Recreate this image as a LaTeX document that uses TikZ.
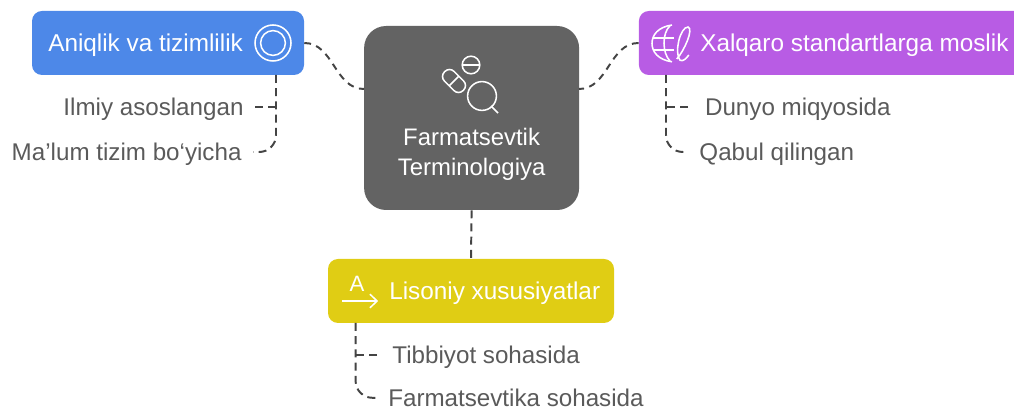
\documentclass[tikz,border=0pt]{standalone}
\usepackage{fontspec}
\setmainfont{Liberation Sans}
\definecolor{boxblue}{HTML}{4D88E8}
\definecolor{boxpurple}{HTML}{B85CE4}
\definecolor{boxyellow}{HTML}{E0CD14}
\definecolor{boxgrey}{HTML}{636363}
\definecolor{labelgrey}{HTML}{5A5A5A}
\definecolor{linkgrey}{HTML}{444444}
\begin{document}
\begin{tikzpicture}[
    box/.style={rectangle, rounded corners=0.25cm, minimum height=1.6cm},
    blue box/.style={box, fill=boxblue, minimum width=6.8cm},
    purple box/.style={box, fill=boxpurple, minimum width=9.775cm},
    yellow box/.style={box, fill=boxyellow, minimum width=7.15cm},
    main box/.style={rectangle, rounded corners=0.55cm, fill=boxgrey, minimum width=5.375cm, minimum height=4.6cm},
    box text/.style={font=\fontsize{17.3}{21.3}\selectfont, text=white, inner sep=0pt, text height=0.43cm, text depth=0cm},
    sub/.style={font=\fontsize{17.2}{21.3}\selectfont, text=labelgrey, inner ysep=0pt, inner xsep=0.28cm, text height=0.43cm, text depth=0cm},
    link/.style={draw=linkgrey, line width=1.4pt, dash pattern=on 0.2cm off 0.13cm},
    curve link/.style={link, dash pattern=on 0.17cm off 0.138cm},
    icon/.style={draw=white, line width=1.1pt},
]
\clip (0,0) rectangle (25.35,10.225);

% Boxes
\node[main box] (center) at (11.79,7.275) {};
\node[blue box] (aniqlik) at (4.2,9.15) {};
\node[purple box] (xalqaro) at (20.86,9.15) {};
\node[yellow box] (lisoniy) at (11.775,2.95) {};

% Box texts
\node[box text, align=center, font=\fontsize{17}{21.3}\selectfont, text height=, text depth=] (centerText) at (11.79,6.36) {Farmatsevtik\\Terminologiya};
\node[box text, anchor=west] (aniqlikText) at (1.2,9.15) {Aniqlik va tizimlilik};
\node[box text, anchor=west] (xalqaroText) at (17.5,9.15) {Xalqaro standartlarga moslik};
\node[box text, anchor=west] (lisoniyText) at (9.725,2.95) {Lisoniy xususiyatlar};

% Labels
\node[sub, anchor=east] (ilmiy) at (6.375,7.55) {Ilmiy asoslangan};
\node[sub, anchor=east] (malum) at (6.325,6.425) {Ma’lum tizim bo‘yicha};
\node[sub, anchor=west, inner xsep=0.42cm] (dunyo) at (17.2,7.55) {Dunyo miqyosida};
\node[sub, anchor=west] (qabul) at (17.2,6.425) {Qabul qilingan};
\node[sub, anchor=west, inner xsep=0.38cm] (tibbiyot) at (9.425,1.35) {Tibbiyot sohasida};
\node[sub, anchor=west, inner xsep=0.25cm] (farmatsevtika) at (9.45,0.28) {Farmatsevtika sohasida};

% Connector ends
\coordinate (centerL) at (9.1,8);
\coordinate (centerR) at (14.475,8);
\coordinate (aniqlikB) at (6.9,8.35);
\coordinate (xalqaroB) at (16.65,8.35);
\coordinate (lisoniyB) at (8.89,2.15);
\coordinate (aniqlikM) at (aniqlikB |- ilmiy.east);
\coordinate (xalqaroM) at (xalqaroB |- dunyo.west);
\coordinate (lisoniyM) at (lisoniyB |- tibbiyot.west);

% Connectors
\draw[curve link] (aniqlik.east) to[out=0, in=180] (centerL);
\draw[curve link] (xalqaro.west) to[out=180, in=0] (centerR);
\draw[link] (center.south) -- (lisoniy.north);
\draw[link] (ilmiy.east) -- (aniqlikM);
\draw[link, rounded corners=0.42cm] (aniqlikB) |- (malum.east);
\draw[link] (dunyo.west) -- (xalqaroM);
\draw[link, rounded corners=0.42cm] (xalqaroB) |- (qabul.west);
\draw[link] (tibbiyot.west) -- (lisoniyM);
\draw[link, rounded corners=0.42cm] (lisoniyB) |- (farmatsevtika.west);

% Icon: rings
\draw[icon] (6.825,9.15) circle (0.45);
\draw[icon] (6.825,9.15) circle (0.31);

% Icon: pill, tablet, lens
\begin{scope}[shift={(11.35,8.2)}, rotate=-45]
    \draw[icon, rounded corners=0.16cm] (-0.33,-0.17) rectangle (0.33,0.17);
    \draw[icon] (0,-0.17) -- (0,0.17);
\end{scope}
\draw[icon] (11.775,8.6) circle (0.22);
\draw[icon] (11.555,8.6) -- (11.995,8.6);
\draw[icon] (12.05,7.825) circle (0.36);
\draw[icon] (12.275,7.575) -- (12.45,7.4);

% Icon: globe and script letter
\draw[icon] (16.8,9.6) .. controls (16.45,9.55) and (16.3,9.35) .. (16.3,9.14) .. controls (16.3,8.93) and (16.45,8.73) .. (16.8,8.68);
\draw[icon] (16.75,9.58) .. controls (16.55,9.4) and (16.55,8.9) .. (16.75,8.7);
\draw[icon] (16.33,9.275) -- (16.85,9.275);
\draw[icon] (16.33,8.975) -- (16.85,8.975);
\draw[icon] (16.92,8.75) .. controls (17.1,8.95) and (17.35,9.5) .. (17.2,9.55) .. controls (17.0,9.55) and (16.85,8.9) .. (17.0,8.72) .. controls (17.07,8.68) and (17.15,8.75) .. (17.22,8.85);

% Icon: letter with arrow
\node[font=\fontsize{15.8}{18}\selectfont, text=white, inner sep=0pt] (letterA) at (8.925,3.125) {A};
\draw[icon] (8.55,2.7) -- (9.425,2.7);
\draw[icon] (9.25,2.87) -- (9.425,2.7) -- (9.25,2.53);
\end{tikzpicture}
\end{document}
